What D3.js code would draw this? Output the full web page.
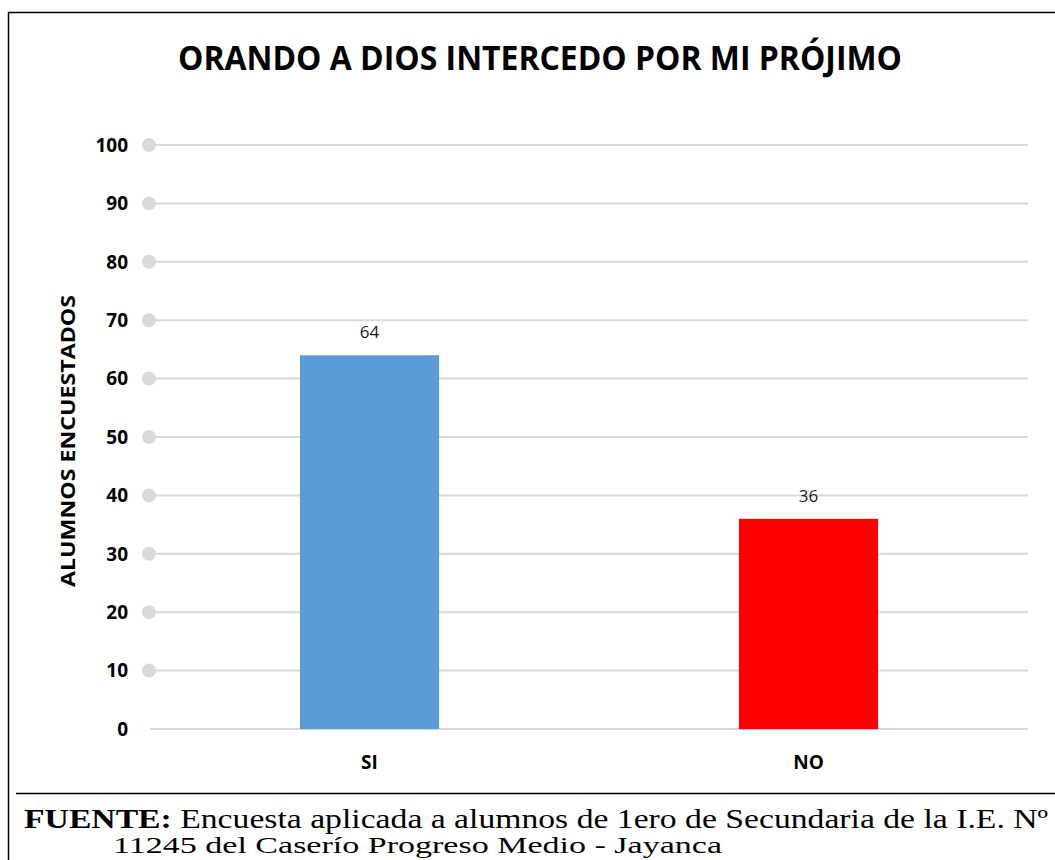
<!DOCTYPE html>
<html><head><meta charset="utf-8">
<script src="https://cdn.jsdelivr.net/npm/d3@7"></script>
<style>html,body{margin:0;padding:0;background:#fff;overflow:hidden}</style>
</head><body>
<svg id="c" width="1055" height="860"></svg>
<script>
const categories = ["SI", "NO"];
const values = [64, 36];
const colors = ["#5b9bd5", "#ff0000"];
const yTicks = [0, 10, 20, 30, 40, 50, 60, 70, 80, 90, 100];
const title = "ORANDO A DIOS INTERCEDO POR MI PRÓJIMO";
const yTitle = "ALUMNOS ENCUESTADOS";
const footerBold = "FUENTE:";
const footerLine1 = " Encuesta aplicada a alumnos de 1ero de Secundaria de la I.E. Nº";
const footerLine2 = "11245 del Caserío Progreso Medio - Jayanca";

const svg = d3.select("#c");
const sans = "'Open Sans', 'Noto Sans', sans-serif";

// frame
svg.append("path").attr("d", "M8.5,860 V12.5 H1055").attr("fill", "none").attr("stroke", "#000").attr("stroke-width", 1.5);
svg.append("line").attr("x1", 16).attr("x2", 1055).attr("y1", 793.5).attr("y2", 793.5).attr("stroke", "#000").attr("stroke-width", 1.5);

const x = d3.scaleBand().domain(categories).range([150, 1028]).padding(0);
const y = d3.scaleLinear().domain([0, 100]).range([729, 145]);

// gridlines
svg.append("g").selectAll("line").data(yTicks).join("line")
  .attr("x1", 150).attr("x2", 1028)
  .attr("y1", d => y(d)).attr("y2", d => y(d))
  .attr("stroke", "#d9d9d9").attr("stroke-width", 2);
// dots
svg.append("g").selectAll("circle").data(yTicks.filter(d => d > 0)).join("circle")
  .attr("cx", 149).attr("cy", d => y(d)).attr("r", 7).attr("fill", "#d9d9d9");
// tick labels
svg.append("g").selectAll("text").data(yTicks).join("text")
  .attr("x", 128).attr("y", d => y(d)).attr("dy", "0.36em")
  .attr("text-anchor", "end").attr("font-family", sans).attr("font-weight", "bold")
  .attr("font-size", 19).attr("fill", "#000").text(d => d);

// bars
const bw = x.bandwidth() * 0.317;
svg.append("g").selectAll("rect").data(values).join("rect")
  .attr("x", (d, i) => x(categories[i]) + x.bandwidth() / 2 - bw / 2)
  .attr("width", bw)
  .attr("y", d => y(d)).attr("height", d => y(0) - y(d))
  .attr("fill", (d, i) => colors[i]);

// value labels
svg.append("g").selectAll("text").data(values).join("text")
  .attr("x", (d, i) => x(categories[i]) + x.bandwidth() / 2)
  .attr("y", d => y(d) - 17).attr("text-anchor", "middle")
  .attr("font-family", sans).attr("font-size", 17).attr("fill", "#1a1a1a").text(d => d);

// category labels
svg.append("g").selectAll("text").data(categories).join("text")
  .attr("x", d => x(d) + x.bandwidth() / 2).attr("y", 769)
  .attr("text-anchor", "middle").attr("font-family", sans).attr("font-weight", "bold")
  .attr("font-size", 19).attr("fill", "#000").text(d => d);

// title
svg.append("text").attr("x", 540).attr("y", 70).attr("text-anchor", "middle")
  .attr("font-family", sans).attr("font-weight", "bold").attr("font-size", 34)
  .attr("textLength", 724).attr("lengthAdjust", "spacingAndGlyphs")
  .attr("fill", "#000").text(title);

// y title
svg.append("text").attr("transform", "translate(75,441) rotate(-90)")
  .attr("text-anchor", "middle").attr("font-family", sans).attr("font-weight", "bold")
  .attr("font-size", 20).attr("textLength", 292).attr("lengthAdjust", "spacingAndGlyphs")
  .attr("fill", "#000").text(yTitle);

// footer
const serif = "'Liberation Serif', 'DejaVu Serif', serif";
const f1 = svg.append("text").attr("x", 24).attr("y", 828).attr("font-family", serif)
  .attr("font-size", 27).attr("fill", "#000")
  .attr("textLength", 1024).attr("lengthAdjust", "spacingAndGlyphs");
f1.append("tspan").attr("font-weight", "bold").text(footerBold);
f1.append("tspan").text(footerLine1);
svg.append("text").attr("x", 113).attr("y", 853).attr("font-family", serif)
  .attr("font-size", 24).attr("fill", "#000")
  .attr("textLength", 609).attr("lengthAdjust", "spacingAndGlyphs")
  .text(footerLine2);
</script>
</body></html>
